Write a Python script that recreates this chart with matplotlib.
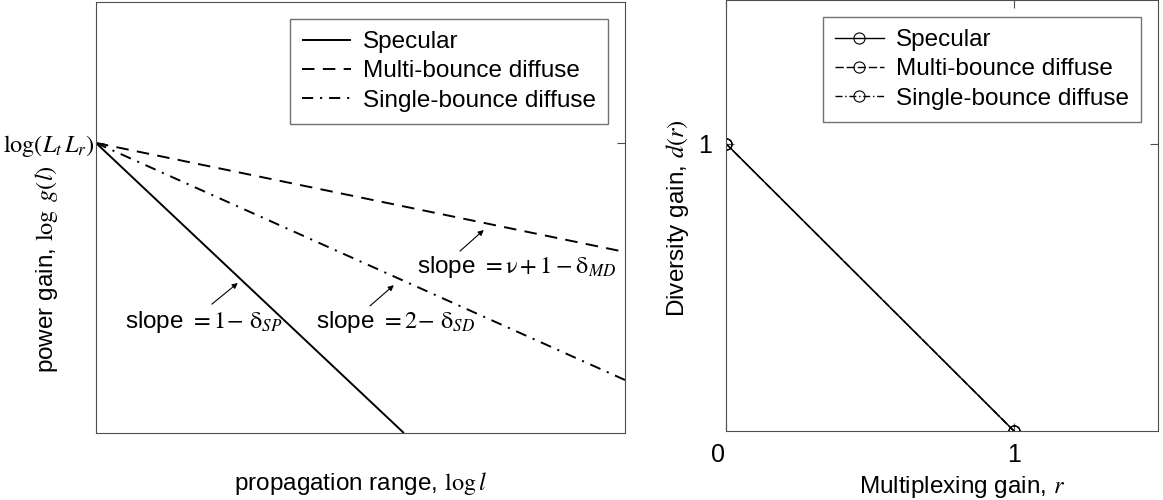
import matplotlib
matplotlib.use("Agg")
import matplotlib.pyplot as plt
import matplotlib.transforms as mtransforms

plt.rcParams['font.family'] = ['Liberation Sans', 'DejaVu Sans']
plt.rcParams['mathtext.fontset'] = 'stix'
plt.rcParams['lines.scale_dashes'] = False

# left panel: power gain vs range (normalised axes units)
start_y = 0.673
spec_x = [0.0, 0.582]
spec_y = [start_y, 0.0]
multi_x = [0.0, 1.0]
multi_y = [start_y, 0.42]
single_x = [0.0, 1.0]
single_y = [start_y, 0.123]

# right panel: diversity-multiplexing tradeoff
r_vals = [0.0, 1.0]
d_spec = [1.0, 0.0]
d_multi = [1.0, 0.0]
d_single = [1.0, 0.0]

labels = ['Specular', 'Multi-bounce diffuse', 'Single-bounce diffuse']
fs = 17.5
edge = '0.3'

fig = plt.figure(figsize=(11.63, 5), dpi=100)
ax1 = fig.add_axes([96 / 1163, 67 / 500, 529 / 1163, 431 / 500])
ax2 = fig.add_axes([726 / 1163, 69 / 500, 432 / 1163, 431 / 500])

# ---- left ----
ax1.plot(spec_x, spec_y, color='k', lw=1.4, solid_capstyle='butt', label=labels[0])
ax1.plot(multi_x, multi_y, color='k', lw=1.4, dashes=(9, 6), label=labels[1])
ax1.plot(single_x, single_y, color='k', lw=1.4, dashes=(8, 5, 1.5, 5), label=labels[2])
ax1.set_xlim(0, 1)
ax1.set_ylim(0, 1)
ax1.set_xticks([])
ax1.set_yticks([start_y])
ax1.set_yticklabels([r'$\log(L_t\,L_r)$'], fontsize=fs)
ax1.tick_params(axis='y', direction='in', left=True, right=True, length=6, pad=1, color=edge)
for s in ax1.spines.values():
    s.set_color(edge)

ax1.set_xlabel(r'propagation range, $\log l$', fontsize=fs)
ax1.xaxis.set_label_coords(0.5, -0.085)
ax1.set_ylabel(r'power gain, $\log\ g(l)$', fontsize=fs)
ax1.yaxis.set_label_coords(-0.068, 0.38)

arrow = dict(arrowstyle='-|>', lw=0.8, color='k', mutation_scale=8, shrinkA=0, shrinkB=0)
ax1.annotate('', xy=(0.733, 0.471), xytext=(0.688, 0.422), arrowprops=arrow)
ax1.text(0.796, 0.385, r'slope $= \mathrm{\nu} + 1 - \mathrm{\delta}_{MD}$', fontsize=fs,
         ha='center', va='center')
ax1.annotate('', xy=(0.563, 0.343), xytext=(0.518, 0.295), arrowprops=arrow)
ax1.text(0.567, 0.258, r'slope $= 2\!-\,\mathrm{\delta}_{SD}$', fontsize=fs, ha='center', va='center')
ax1.annotate('', xy=(0.268, 0.348), xytext=(0.219, 0.299), arrowprops=arrow)
ax1.text(0.204, 0.258, r'slope $= 1\!-\,\mathrm{\delta}_{SP}$', fontsize=fs, ha='center', va='center')

leg1 = ax1.legend(loc='upper right', fontsize=fs, frameon=True, fancybox=False,
                  edgecolor=edge, borderaxespad=0.7, labelspacing=0.3,
                  handlelength=2.0, handletextpad=0.5, borderpad=0.5)
leg1.get_frame().set_linewidth(1.0)

# ---- right ----
mk = dict(marker='o', markersize=8, markerfacecolor='none', markeredgecolor='k',
          markeredgewidth=0.8, color='k', lw=1.0)
ax2.plot(r_vals, d_spec, ls='-', label=labels[0], **mk)
ax2.plot(r_vals, d_multi, dashes=(6, 2), label=labels[1], **mk)
ax2.plot(r_vals, d_single, dashes=(5, 2, 1, 2), label=labels[2], **mk)
ax2.set_xlim(0, 1.5)
ax2.set_ylim(0, 1.5)
ax2.set_xticks([0, 1])
ax2.set_xticklabels(['0', '1'], fontsize=18)
ax2.set_yticks([1])
ax2.set_yticklabels(['1'], fontsize=18)
ax2.tick_params(direction='in', top=True, right=True, length=6, color=edge)
ax2.tick_params(axis='x', pad=9)
ax2.tick_params(axis='y', pad=10)
shift = mtransforms.ScaledTranslation(-8 / 100, 0, fig.dpi_scale_trans)
lbl0 = ax2.get_xticklabels()[0]
lbl0.set_transform(lbl0.get_transform() + shift)
for s in ax2.spines.values():
    s.set_color(edge)

ax2.set_xlabel(r'Multiplexing gain, $r$', fontsize=fs)
ax2.xaxis.set_label_coords(0.546, -0.1)
ax2.set_ylabel(r'Diversity gain, $d(r)$', fontsize=fs)
ax2.yaxis.set_label_coords(-0.08, 0.494)

leg2 = ax2.legend(loc='upper right', fontsize=fs, frameon=True, fancybox=False,
                  edgecolor=edge, borderaxespad=0.7, labelspacing=0.3, numpoints=1,
                  handlelength=2.0, handletextpad=0.5, borderpad=0.5)
leg2.get_frame().set_linewidth(1.0)

fig.savefig('out.png', dpi=100)
